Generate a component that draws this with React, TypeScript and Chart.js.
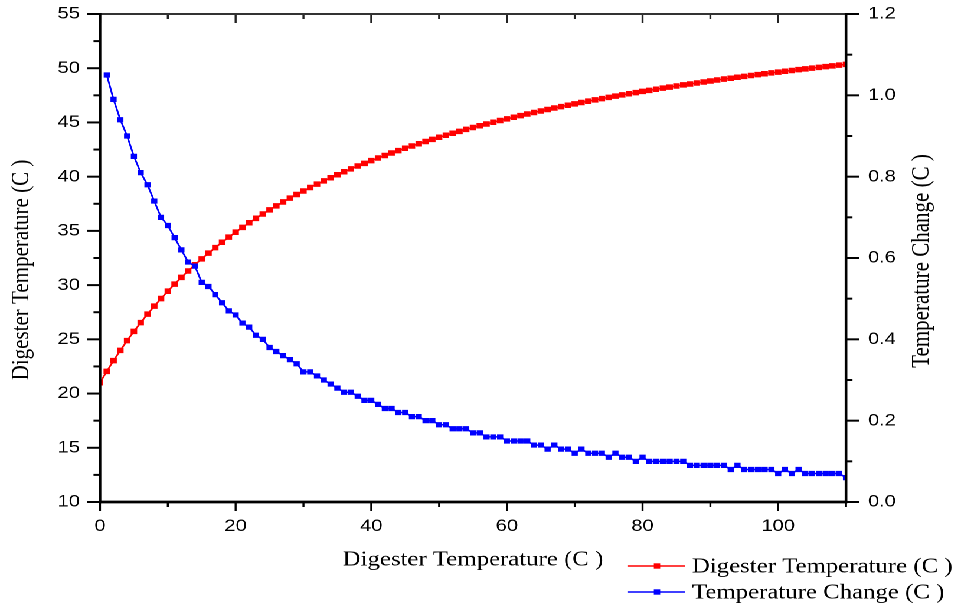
import React, { useEffect, useRef } from 'react';
import { Chart, registerables } from 'chart.js';

Chart.register(...registerables);

// x positions (Digester Temperature axis values)
const steps = [
  0, 1, 2, 3, 4, 5, 6, 7, 8, 9,
  10, 11, 12, 13, 14, 15, 16, 17, 18, 19,
  20, 21, 22, 23, 24, 25, 26, 27, 28, 29,
  30, 31, 32, 33, 34, 35, 36, 37, 38, 39,
  40, 41, 42, 43, 44, 45, 46, 47, 48, 49,
  50, 51, 52, 53, 54, 55, 56, 57, 58, 59,
  60, 61, 62, 63, 64, 65, 66, 67, 68, 69,
  70, 71, 72, 73, 74, 75, 76, 77, 78, 79,
  80, 81, 82, 83, 84, 85, 86, 87, 88, 89,
  90, 91, 92, 93, 94, 95, 96, 97, 98, 99,
  100, 101, 102, 103, 104, 105, 106, 107, 108, 109,
  110,
];

// red series, left axis (x = 0..110)
const digesterTemp = [
  21.0, 22.05, 23.04, 23.98, 24.88, 25.73, 26.54, 27.32, 28.06, 28.76,
  29.44, 30.09, 30.71, 31.3, 31.88, 32.42, 32.95, 33.46, 33.95, 34.42,
  34.88, 35.32, 35.75, 36.16, 36.56, 36.94, 37.31, 37.67, 38.02, 38.36,
  38.68, 39.0, 39.31, 39.61, 39.9, 40.18, 40.45, 40.72, 40.98, 41.23,
  41.48, 41.72, 41.95, 42.18, 42.4, 42.62, 42.83, 43.04, 43.24, 43.44,
  43.63, 43.82, 44.0, 44.18, 44.36, 44.53, 44.7, 44.86, 45.02, 45.18,
  45.33, 45.48, 45.63, 45.78, 45.92, 46.06, 46.19, 46.33, 46.46, 46.59,
  46.71, 46.84, 46.96, 47.08, 47.2, 47.31, 47.43, 47.54, 47.65, 47.75,
  47.86, 47.96, 48.06, 48.16, 48.26, 48.36, 48.46, 48.55, 48.64, 48.73,
  48.82, 48.91, 49.0, 49.08, 49.17, 49.25, 49.33, 49.41, 49.49, 49.57,
  49.64, 49.72, 49.79, 49.87, 49.94, 50.01, 50.08, 50.15, 50.22, 50.29,
  50.35,
];

// blue series, right axis (x = 1..110)
const tempChange = [
  1.05, 0.99, 0.94, 0.9, 0.85, 0.81, 0.78, 0.74, 0.7, 0.68,
  0.65, 0.62, 0.59, 0.58, 0.54, 0.53, 0.51, 0.49, 0.47, 0.46,
  0.44, 0.43, 0.41, 0.4, 0.38, 0.37, 0.36, 0.35, 0.34, 0.32,
  0.32, 0.31, 0.3, 0.29, 0.28, 0.27, 0.27, 0.26, 0.25, 0.25,
  0.24, 0.23, 0.23, 0.22, 0.22, 0.21, 0.21, 0.2, 0.2, 0.19,
  0.19, 0.18, 0.18, 0.18, 0.17, 0.17, 0.16, 0.16, 0.16, 0.15,
  0.15, 0.15, 0.15, 0.14, 0.14, 0.13, 0.14, 0.13, 0.13, 0.12,
  0.13, 0.12, 0.12, 0.12, 0.11, 0.12, 0.11, 0.11, 0.1, 0.11,
  0.1, 0.1, 0.1, 0.1, 0.1, 0.1, 0.09, 0.09, 0.09, 0.09,
  0.09, 0.09, 0.08, 0.09, 0.08, 0.08, 0.08, 0.08, 0.08, 0.07,
  0.08, 0.07, 0.08, 0.07, 0.07, 0.07, 0.07, 0.07, 0.07, 0.06,
];

const xTitle = 'Digester Temperature (C )';
const yTitle = 'Digester Temperature (C )';
const y1Title = 'Temperature Change (C )';
const seriesNames = ['Digester Temperature (C )', 'Temperature Change (C )'];
const seriesColors = ['#ff0000', '#0000ff'];

const W = 814; // logical width, stretched horizontally to 961
const H = 605;
const S = 961 / W;

const SERIF = "'Liberation Serif', 'Times New Roman', serif";
const SANS = "'Liberation Sans', Arial, sans-serif";

const decorPlugin = {
  id: 'decor',
  afterDatasetsDraw(chart: any) {
    const { ctx, chartArea: a, scales } = chart;
    const xs = scales.x;
    const ys = scales.y;
    const y1s = scales.y1;
    ctx.save();
    const line = (x1: number, y1: number, x2: number, y2: number, w: number, c = '#000') => {
      ctx.strokeStyle = c;
      ctx.lineWidth = w;
      ctx.beginPath();
      ctx.moveTo(x1, y1);
      ctx.lineTo(x2, y2);
      ctx.stroke();
    };
    const minors = (sc: any, step: number) => {
      const out: number[] = [];
      for (let v = sc.min + step / 2; v <= sc.max + 1e-9; v += step) out.push(v);
      return out;
    };
    const hMaj = 11, hMin = 5.5, vMaj = 9, vMin = 5;
    // left axis ticks
    ys.ticks.forEach((t: any) => { const p = ys.getPixelForValue(t.value); line(a.left - hMaj, p, a.left, p, 2); });
    minors(ys, 5).forEach((v) => { const p = ys.getPixelForValue(v); line(a.left - hMin, p, a.left, p, 2); });
    // right axis ticks
    y1s.ticks.forEach((t: any) => { const p = y1s.getPixelForValue(t.value); line(a.right, p, a.right + hMaj, p, 2); });
    minors(y1s, 0.2).forEach((v) => { const p = y1s.getPixelForValue(v); line(a.right, p, a.right + hMin, p, 2); });
    // bottom + top ticks
    xs.ticks.forEach((t: any) => {
      const p = xs.getPixelForValue(t.value);
      line(p, a.bottom, p, a.bottom + vMaj, 2 / S);
      line(p, a.top, p, a.top + vMaj, 2 / S, '#222');
    });
    minors(xs, 20).forEach((v) => {
      const p = xs.getPixelForValue(v);
      line(p, a.bottom, p, a.bottom + vMin, 2 / S);
      line(p, a.top, p, a.top + vMin, 2 / S, '#222');
    });
    // frame
    line(a.left, a.top, a.right, a.top, 2, '#333');
    line(a.left - 1, a.bottom, a.right + 1, a.bottom, 2.7);
    line(a.left, a.top - 1, a.left, a.bottom + 1.3, 2.7 / S);
    line(a.right, a.top - 1, a.right, a.bottom + 1.3, 2.7 / S);

    // titles
    ctx.fillStyle = '#000';
    ctx.font = `21px ${SERIF}`;
    ctx.textAlign = 'center';
    ctx.textBaseline = 'middle';
    ctx.fillText(xTitle, (a.left + a.right) / 2, 560);
    ctx.save();
    ctx.translate(22 / S, 270);
    ctx.rotate(-Math.PI / 2);
    ctx.fillText(yTitle, 0, 0);
    ctx.restore();
    ctx.save();
    ctx.translate(922 / S, 261);
    ctx.rotate(-Math.PI / 2);
    ctx.fillText(y1Title, 0, 0);
    ctx.restore();

    // legend
    const rows = [566, 592];
    ctx.textAlign = 'left';
    seriesNames.forEach((name, i) => {
      const yy = rows[i];
      line(628 / S, yy, 685 / S, yy, 1.5, seriesColors[i]);
      ctx.fillStyle = seriesColors[i];
      const m = 5.4;
      ctx.fillRect(657 / S - m / 2, yy - m / 2, m, m);
      ctx.fillStyle = '#000';
      ctx.fillText(name, 692 / S, yy + 1);
    });
    ctx.restore();
  },
};

const noPadY = (width: number) => (s: any) => {
  s.width = width;
  s.paddingTop = 0;
  s.paddingBottom = 0;
};

export default function App() {
  const ref = useRef<HTMLCanvasElement>(null);
  useEffect(() => {
    const chart = new Chart(ref.current as HTMLCanvasElement, {
      type: 'line',
      data: {
        datasets: [
          {
            label: seriesNames[0],
            data: steps.map((s, i) => ({ x: s, y: digesterTemp[i] })),
            borderColor: seriesColors[0],
            backgroundColor: seriesColors[0],
            borderWidth: 1.5,
            pointStyle: 'rect',
            pointRadius: 3.9,
            pointBorderWidth: 0,
            pointBackgroundColor: seriesColors[0],
            yAxisID: 'y',
            clip: 0,
            order: 2,
          },
          {
            label: seriesNames[1],
            data: tempChange.map((v, i) => ({ x: steps[i + 1], y: v })),
            borderColor: seriesColors[1],
            backgroundColor: seriesColors[1],
            borderWidth: 1.5,
            pointStyle: 'rect',
            pointRadius: 3.7,
            pointBorderWidth: 0,
            pointBackgroundColor: seriesColors[1],
            yAxisID: 'y1',
            clip: 0,
            order: 1,
          },
        ],
      },
      options: {
        animation: false,
        responsive: true,
        maintainAspectRatio: false,
        devicePixelRatio: 2,
        layout: { padding: { top: 14, left: 0, right: 0, bottom: 0 } },
        plugins: { legend: { display: false }, tooltip: { enabled: false } },
        scales: {
          x: {
            type: 'linear',
            min: 0,
            max: 110,
            grid: { display: false, drawTicks: false },
            border: { display: false },
            ticks: { stepSize: 20, includeBounds: false, padding: 14, color: '#000', font: { family: SANS, size: 17 } },
            afterFit: (s: any) => {
              s.height = 103;
              s.paddingLeft = 0;
              s.paddingRight = 0;
            },
          },
          y: {
            type: 'linear',
            position: 'left',
            min: 10,
            max: 55,
            grid: { display: false, drawTicks: false },
            border: { display: false },
            ticks: { stepSize: 5, padding: 17, color: '#000', font: { family: SANS, size: 17 } },
            afterFit: noPadY(100 / S),
          },
          y1: {
            type: 'linear',
            position: 'right',
            min: 0,
            max: 1.2,
            grid: { display: false, drawTicks: false },
            border: { display: false },
            ticks: {
              stepSize: 0.2,
              padding: 18.6,
              color: '#000',
              font: { family: SANS, size: 17 },
              callback: (v: any) => Number(v).toFixed(1),
            },
            afterFit: noPadY(W - 846 / S),
          },
        },
      } as any,
      plugins: [decorPlugin],
    });
    return () => chart.destroy();
  }, []);
  return (
    <div
      style={{
        position: 'fixed',
        left: 0,
        top: 0,
        width: W,
        height: H,
        transform: `scaleX(${S})`,
        transformOrigin: '0 0',
        background: '#fff',
      }}
    >
      <canvas ref={ref} />
    </div>
  );
}
